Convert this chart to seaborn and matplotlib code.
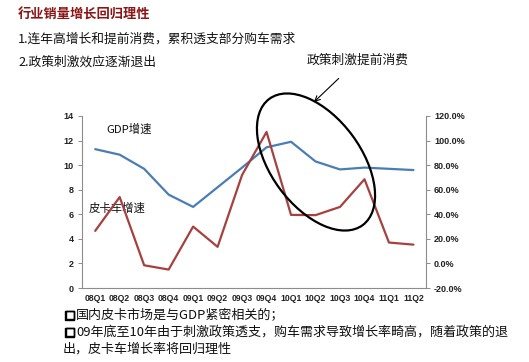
import numpy as np
import pandas as pd
import seaborn as sns
import matplotlib
matplotlib.use("Agg")
import matplotlib.pyplot as plt
import matplotlib.patheffects as pe
from matplotlib.patches import Ellipse
from matplotlib.transforms import IdentityTransform
from matplotlib.ticker import FixedLocator

quarters = ["08Q1", "08Q2", "08Q3", "08Q4", "09Q1", "09Q2", "09Q3", "09Q4",
            "10Q1", "10Q2", "10Q3", "10Q4", "11Q1", "11Q2"]
gdp_growth = [11.3, 10.85, 9.7, 7.6, 6.6, 8.2, 9.8, 11.45, 11.9, 10.3, 9.65, 9.8, 9.7, 9.6]
pickup_growth = [26.5, 54.0, -1.5, -5.0, 30.0, 13.5, 72.0, 107.0, 39.5, 39.3, 46.0, 68.5, 17.0, 15.3]
left_ticks = [0, 2, 4, 6, 8, 10, 12, 14]
right_ticks = [-20, 0, 20, 40, 60, 80, 100, 120]

title = "行业销量增长回归理性"
line1 = "1.连年高增长和提前消费，累积透支部分购车需求"
line2 = "2.政策刺激效应逐渐退出"
note = "政策刺激提前消费"
gdp_label = "GDP增速"
pickup_label = "皮卡车增速"
bullet = "□"
foot1 = "国内皮卡市场是与GDP紧密相关的；"
foot2 = "09年底至10年由于刺激政策透支，购车需求导致增长率畸高，随着政策的退"
foot3 = "出，皮卡车增长率将回归理性"

sns.set_style("white")
plt.rcParams['font.family'] = ['Noto Sans CJK SC', 'DejaVu Sans']

df = pd.DataFrame({"quarter": quarters, "gdp": gdp_growth, "pickup": pickup_growth})
df["pos"] = np.arange(len(quarters))

BLUE = "#4A7DB5"
RED = "#A5413F"
AXC = "#8C8C8C"

fig = plt.figure(figsize=(5.29, 3.62), dpi=100)
ax = fig.add_axes([0.1545, 0.2044, 0.6502, 0.4752])
ax2 = ax.twinx()

sns.lineplot(data=df, x="pos", y="gdp", ax=ax, color=BLUE, linewidth=1.6, sort=False)
sns.lineplot(data=df, x="pos", y="pickup", ax=ax2, color=RED, linewidth=1.6, sort=False)

ax.set_xlim(-0.55, 13.5)
ax.set_ylim(0, 14)
ax2.set_ylim(-20, 120)
ax.set_xlabel("")
ax.set_ylabel("")
ax2.set_ylabel("")

ax.set_yticks(left_ticks)
ax.set_yticklabels([str(v) for v in left_ticks])
ax2.set_yticks(right_ticks)
ax2.set_yticklabels([f"{v:.1f}%" for v in right_ticks])
ax.set_xticks(df["pos"])
ax.set_xticklabels(quarters)
ax.xaxis.set_minor_locator(FixedLocator(np.arange(-0.5, 14, 1.0)))

for a in (ax, ax2):
    for s in a.spines.values():
        s.set_visible(False)
ax.spines["left"].set_visible(True)
ax.spines["bottom"].set_visible(True)
ax2.spines["right"].set_visible(True)
for s in (ax.spines["left"], ax.spines["bottom"], ax2.spines["right"]):
    s.set_color(AXC)
    s.set_linewidth(0.8)

ax.tick_params(axis="y", which="major", direction="out", length=3, width=0.7, color=AXC,
               labelsize=6.5, pad=3, labelcolor="#222222")
ax2.tick_params(axis="y", which="major", direction="out", length=3, width=0.7, color=AXC,
                labelsize=6.5, pad=3, labelcolor="#222222")
ax.tick_params(axis="x", which="major", length=0, labelsize=6.2, pad=4, labelcolor="#222222")
ax.tick_params(axis="x", which="minor", direction="out", length=3, width=0.7, color=AXC)
for lbl in ax.get_yticklabels() + ax2.get_yticklabels() + ax.get_xticklabels():
    lbl.set_family(['Liberation Sans', 'DejaVu Sans'])
    lbl.set_fontweight('bold')

# labels inside the plot
ax.text(0.45, 12.95, gdp_label, fontsize=8.2, color="#111111", va="center", ha="left")
ax.text(-0.25, 6.5, pickup_label, fontsize=8.2, color="#111111", va="center", ha="left")

# header texts
fig.text(18 / 529, 1 - 15 / 362, title, fontsize=9.5, color="#8B1414", fontweight="bold",
         va="center", ha="left")
fig.text(18 / 529, 1 - 39 / 362, line1, fontsize=9.2, color="#111111", va="center", ha="left")
fig.text(18 / 529, 1 - 62 / 362, line2, fontsize=9.2, color="#111111", va="center", ha="left")

# annotation ellipse and arrow
ell = Ellipse((316, 362 - 162), width=157, height=90, angle=-53.5, fill=False,
              edgecolor="black", linewidth=1.6, transform=IdentityTransform())
fig.add_artist(ell)
ax.annotate(note, xy=(314, 362 - 102), xycoords="figure pixels",
            xytext=(358, 362 - 60), textcoords="figure pixels",
            fontsize=9.2, color="#111111", ha="center", va="center",
            arrowprops=dict(arrowstyle="->", color="black", lw=0.8,
                            shrinkA=9, shrinkB=0))

# footer texts
bold_fx = [pe.Stroke(linewidth=1.0, foreground="black"), pe.Normal()]
for yy, txt, has_bullet in ((315, foot1, True), (332, foot2, True), (349, foot3, False)):
    if has_bullet:
        fig.text(64 / 529, 1 - yy / 362, bullet, fontsize=8.6, color="#000000",
                 fontweight="bold", family=["DejaVu Sans"], va="center", ha="left",
                 path_effects=bold_fx)
        fig.text(76 / 529, 1 - yy / 362, txt, fontsize=9.4, color="#111111",
                 va="center", ha="left")
    else:
        fig.text(63 / 529, 1 - yy / 362, txt, fontsize=9.4, color="#111111",
                 va="center", ha="left")

fig.savefig("out.png", dpi=100)
